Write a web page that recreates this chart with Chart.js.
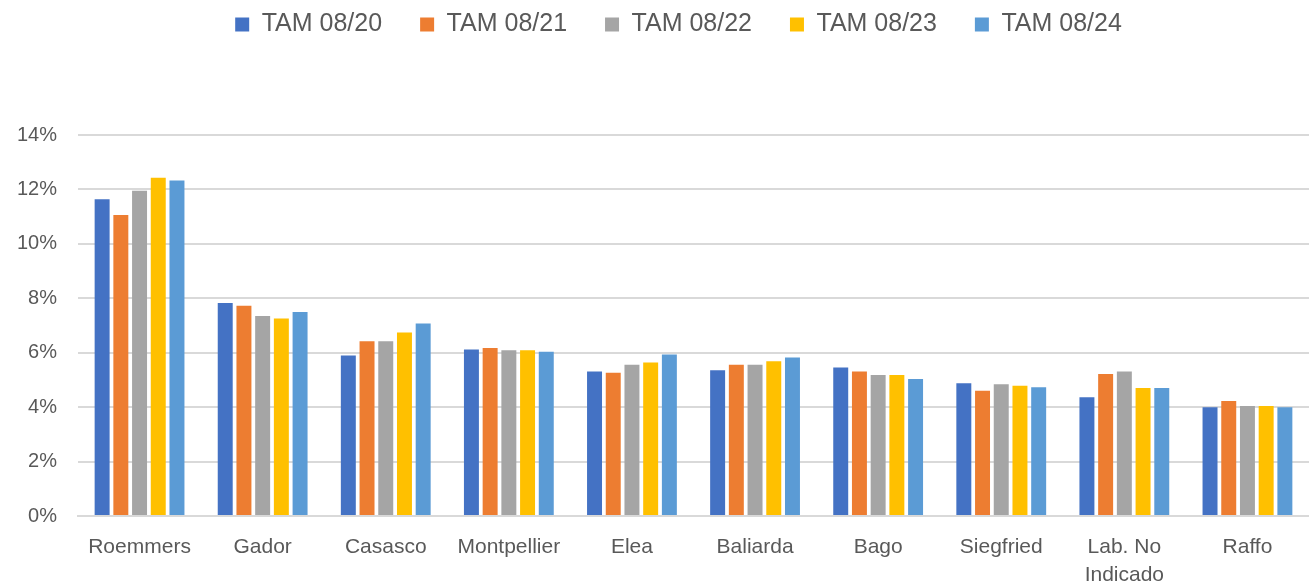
<!DOCTYPE html>
<html>
<head>
<meta charset="utf-8">
<script src="https://cdn.jsdelivr.net/npm/chart.js@4"></script>
<style>
  html, body { margin: 0; padding: 0; background: #ffffff; }
  #wrap { position: relative; width: 1309px; height: 586px; }
</style>
</head>
<body>
<div id="wrap"><canvas id="c"></canvas></div>
<script>
const categories = ["Roemmers", "Gador", "Casasco", "Montpellier", "Elea", "Baliarda", "Bago", "Siegfried", ["Lab. No", "Indicado"], "Raffo"];
const seriesNames = ["TAM 08/20", "TAM 08/21", "TAM 08/22", "TAM 08/23", "TAM 08/24"];
const tam0820 = [11.64, 7.83, 5.90, 6.12, 5.31, 5.36, 5.46, 4.88, 4.36, 4.00];
const tam0821 = [11.06, 7.73, 6.42, 6.17, 5.26, 5.56, 5.31, 4.60, 5.22, 4.23];
const tam0822 = [11.95, 7.35, 6.42, 6.09, 5.56, 5.56, 5.18, 4.84, 5.31, 4.04];
const tam0823 = [12.43, 7.26, 6.74, 6.09, 5.64, 5.69, 5.18, 4.79, 4.70, 4.04];
const tam0824 = [12.33, 7.50, 7.07, 6.04, 5.93, 5.82, 5.03, 4.73, 4.70, 4.00];
const yTicks = [0, 2, 4, 6, 8, 10, 12, 14];

const colors = ["#4472C4", "#ED7D31", "#A5A5A5", "#FFC000", "#5B9BD5"];
const allSeries = [tam0820, tam0821, tam0822, tam0823, tam0824];
const FONT = "'Liberation Sans', Arial, sans-serif";
const TXT = "#595959";

const legendPlacePlugin = {
  id: 'legendPlace',
  beforeInit(chart) {
    const origFit = chart.legend.fit;
    chart.legend.fit = function () {
      origFit.bind(chart.legend)();
      this.height = 135;
    };
  },
  afterLayout(chart) {
    const lg = chart.legend;
    lg.top -= 26; lg.bottom -= 26;
    lg.left += 24; lg.right += 24;
  }
};

new Chart(document.getElementById('c'), {
  type: 'bar',
  data: {
    labels: categories,
    datasets: allSeries.map((d, i) => ({
      label: seriesNames[i],
      data: d,
      backgroundColor: colors[i],
      borderWidth: 0,
      categoryPercentage: 0.76,
      barPercentage: 0.80
    }))
  },
  plugins: [legendPlacePlugin],
  options: {
    responsive: true,
    maintainAspectRatio: false,
    animation: false,
    layout: { padding: { top: 0, right: 0, left: 0, bottom: 0 } },
    plugins: {
      tooltip: { enabled: false },
      legend: {
        position: 'top',
        labels: {
          color: TXT,
          font: { family: FONT, size: 25 },
          boxWidth: 14,
          boxHeight: 14,
          padding: 38
        }
      }
    },
    scales: {
      x: {
        grid: { display: false, drawTicks: false },
        border: { display: true, color: '#d9d9d9', width: 2 },
        ticks: {
          color: TXT,
          font: { family: FONT, size: 21, lineHeight: 1.3 },
          padding: 18,
          maxRotation: 0,
          autoSkip: false
        },
        afterFit(axis) { axis.height = 70; }
      },
      y: {
        min: 0,
        max: 14,
        afterBuildTicks(axis) { axis.ticks = yTicks.map(v => ({ value: v })); },
        grid: { color: '#d9d9d9', lineWidth: 2, drawTicks: false },
        border: { display: false },
        ticks: {
          color: TXT,
          font: { family: FONT, size: 20 },
          padding: 21,
          callback: v => v + '%'
        },
        afterFit(axis) { axis.width = 78; }
      }
    }
  }
});
</script>
</body>
</html>
